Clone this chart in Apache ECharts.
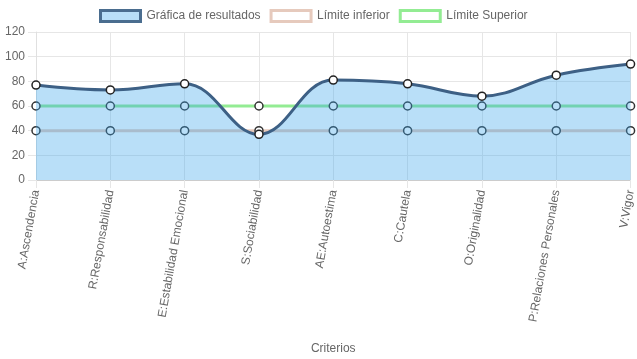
<!DOCTYPE html>
<html>
<head>
<meta charset="utf-8">
<script src="https://cdn.jsdelivr.net/npm/echarts@6/dist/echarts.min.js"></script>
<style>
html,body{margin:0;padding:0;background:#fff;}
#chart{width:637px;height:359px;}
</style>
</head>
<body>
<div id="chart"></div>
<script>
const categories = ["A:Ascendencia","R:Responsabilidad","E:Estabilidad Emocional","S:Sociabilidad","AE:Autoestima","C:Cautela","O:Originalidad","P:Relaciones Personales","V:Vigor"];
const resultados = [77, 73, 78, 37, 81, 78, 68, 85, 94];
const limiteInferior = [40, 40, 40, 40, 40, 40, 40, 40, 40];
const limiteSuperior = [60, 60, 60, 60, 60, 60, 60, 60, 60];
const yTicks = [0, 20, 40, 60, 80, 100, 120];
const seriesNames = ["Gráfica de resultados", "Límite inferior", "Límite Superior"];
const axisTitle = "Criterios";

const font = "Liberation Sans, Arial, Helvetica, sans-serif";
const chart = echarts.init(document.getElementById('chart'));
chart.setOption({
  animation: false,
  textStyle: { fontFamily: font },
  legend: {
    top: 4,
    left: 94,
    itemWidth: 40,
    itemHeight: 11,
    itemGap: 9,
    icon: 'rect',
    textStyle: { color: '#666', fontSize: 12, fontFamily: font, padding: [0, 0, 0, 1] },
    data: [
      { name: seriesNames[0], itemStyle: { color: 'rgba(54,162,235,0.35)', borderColor: '#4a6d8f', borderWidth: 3 } },
      { name: seriesNames[1], itemStyle: { color: '#fff', borderColor: '#e6cabd', borderWidth: 3 } },
      { name: seriesNames[2], itemStyle: { color: '#fff', borderColor: '#93ec93', borderWidth: 3 } }
    ]
  },
  grid: { left: 36, right: 4, top: 32, bottom: 179, containLabel: false },
  xAxis: {
    type: 'category',
    data: categories,
    boundaryGap: false,
    name: axisTitle,
    nameLocation: 'middle',
    nameGap: 163,
    nameTextStyle: { color: '#666', fontSize: 12, fontFamily: font },
    axisLine: { show: true, lineStyle: { color: '#ccc', width: 1 } },
    axisTick: { show: true, alignWithLabel: true, length: 8, lineStyle: { color: '#e6e6e6' } },
    axisLabel: { rotate: 80, color: '#666', fontSize: 12, margin: 10, interval: 0, fontFamily: font },
    splitLine: { show: true, lineStyle: { color: '#e6e6e6', width: 1 } }
  },
  yAxis: {
    type: 'value',
    min: yTicks[0],
    max: yTicks[yTicks.length - 1],
    interval: 20,
    axisLine: { show: true, lineStyle: { color: '#e0e0e0' } },
    axisTick: { show: true, length: 8, lineStyle: { color: '#e6e6e6' } },
    axisLabel: { color: '#666', fontSize: 12, margin: 11, fontFamily: font },
    splitLine: { show: true, lineStyle: { color: '#e6e6e6', width: 1 } }
  },
  series: [
    {
      name: seriesNames[0],
      type: 'line',
      data: resultados,
      smooth: 0.4,
      z: 5,
      symbol: 'circle',
      symbolSize: 8,
      lineStyle: { color: '#3d6085', width: 3 },
      itemStyle: { color: '#fff', borderColor: '#222', borderWidth: 1.5 },
      areaStyle: { color: 'rgba(54,162,235,0.35)', opacity: 1 }
    },
    {
      name: seriesNames[1],
      type: 'line',
      data: limiteInferior,
      z: 2,
      symbol: 'circle',
      symbolSize: 8,
      lineStyle: { color: '#e6cabd', width: 3 },
      itemStyle: { color: '#fff', borderColor: '#333', borderWidth: 1.5 }
    },
    {
      name: seriesNames[2],
      type: 'line',
      data: limiteSuperior,
      z: 2,
      symbol: 'circle',
      symbolSize: 8,
      lineStyle: { color: '#93ec93', width: 3 },
      itemStyle: { color: '#fff', borderColor: '#333', borderWidth: 1.5 }
    }
  ]
});
</script>
</body>
</html>
